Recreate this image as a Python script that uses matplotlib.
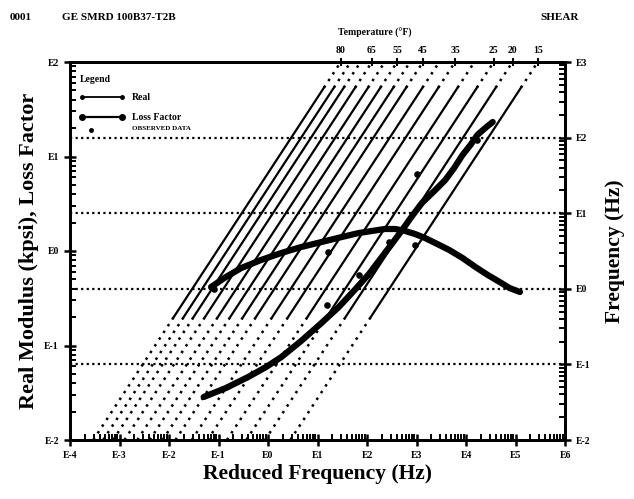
import numpy as np
import matplotlib
matplotlib.use("Agg")
import matplotlib.pyplot as plt
from matplotlib.ticker import LogLocator, FixedLocator, NullFormatter

# ---------------- data ----------------
# isotherms: temperature (F) and log10 shift factor aT (reduced freq = f * aT)
iso_temps = [80, 75, 70, 65, 60, 55, 50, 45, 40, 35, 30, 25, 20, 15]
iso_log_aT = [-1.53, -1.33, -1.13, -0.90, -0.64, -0.39, -0.13, 0.13, 0.46, 0.78, 1.17, 1.56, 1.94, 2.45]
labeled_temps = [80, 65, 55, 45, 35, 25, 20, 15]
test_freq_range = [10**-0.37, 10**2.66]   # solid part of isotherms (Hz)

# master curves (log10 reduced frequency, log10 value)
real_logfr = [-1.30, -0.85, -0.40, -0.04, 0.27, 0.67, 1.08, 1.43, 1.75, 2.04, 2.30, 2.50,
              2.71, 2.91, 3.11, 3.36, 3.58, 3.76, 3.93, 4.09, 4.23, 4.39, 4.54]
real_logE = [-1.545, -1.450, -1.333, -1.228, -1.122, -0.952, -0.762, -0.593, -0.413, -0.243,
             -0.063, 0.074, 0.222, 0.370, 0.508, 0.635, 0.751, 0.878, 1.016, 1.122, 1.228,
             1.302, 1.365]
loss_logfr = [-1.15, -0.85, -0.54, -0.14, 0.27, 0.67, 1.08, 1.49, 1.83, 2.10, 2.36, 2.57,
              2.77, 2.97, 3.17, 3.42, 3.66, 3.93, 4.19, 4.44, 4.68, 4.88, 5.09]
loss_logeta = [-0.381, -0.275, -0.180, -0.095, -0.021, 0.042, 0.095, 0.148, 0.190, 0.212,
               0.233, 0.233, 0.212, 0.180, 0.138, 0.074, 0.011, -0.074, -0.169, -0.254,
               -0.328, -0.392, -0.434]
obs_logfr = [1.20, 1.83, 2.44, 2.97, 3.01, 4.23, 1.22, -1.10]
obs_logy = [-0.571, -0.254, 0.095, 0.063, 0.815, 1.175, -0.011, -0.40]

x_ticks_exp = [-4, -3, -2, -1, 0, 1, 2, 3, 4, 5, 6]
left_ticks_exp = [-2, -1, 0, 1, 2]
right_ticks_exp = [-2, -1, 0, 1, 2, 3]

# ---------------- figure ----------------
SERIF = "Liberation Serif"
W, H = 634, 499
fig = plt.figure(figsize=(W / 100, H / 100), dpi=100)
ax = fig.add_axes([70 / W, 1 - 440 / H, 495 / W, 378 / H])
ax.set_xscale("log")
ax.set_yscale("log")
ax.set_xlim(1e-4, 1e6)
ax.set_ylim(1e-2, 1e2)

ax2 = ax.twinx()
ax2.set_yscale("log")
ax2.set_ylim(1e-2, 1e3)

for a in (ax, ax2):
    for s in a.spines.values():
        s.set_linewidth(2.0)

# horizontal dotted grid at right-axis decades
for e in [2, 1, 0, -1]:
    ax2.axhline(10.0**e, color="black", ls=(0, (1, 1.5)), lw=1.6, zorder=1)

# isotherms
f_lo, f_hi = test_freq_range
for la in iso_log_aT:
    aT = 10.0**la
    f_solid = np.array([f_lo, f_hi])
    ax2.plot(f_solid * aT, f_solid, color="black", lw=1.6, zorder=2)
    f_bot = np.array([1e-2, f_lo])
    f_top = np.array([f_hi, 1e3])
    ax2.plot(f_bot * aT, f_bot, color="black", lw=1.8, ls=(0, (1, 2.2)), zorder=2)
    ax2.plot(f_top * aT, f_top, color="black", lw=1.8, ls=(0, (1, 2.2)), zorder=2)

# master curves
ax.plot(10.0**np.array(real_logfr), 10.0**np.array(real_logE), color="black", lw=4.5, zorder=4,
        solid_capstyle="round", solid_joinstyle="round")
ax.plot(10.0**np.array(loss_logfr), 10.0**np.array(loss_logeta), color="black", lw=4.5, zorder=4,
        solid_capstyle="round", solid_joinstyle="round")
ax.scatter(10.0**np.array(obs_logfr), 10.0**np.array(obs_logy), s=14, color="black", zorder=5)

# ticks
tick_font = dict(family=SERIF, weight="bold", size=7)
ax.xaxis.set_major_locator(FixedLocator([10.0**e for e in x_ticks_exp]))
ax.set_xticklabels(["E%d" % e for e in x_ticks_exp], **tick_font)
ax.xaxis.set_minor_locator(LogLocator(base=10, subs=np.arange(2, 10), numticks=20))
ax.xaxis.set_minor_formatter(NullFormatter())
ax.yaxis.set_major_locator(FixedLocator([10.0**e for e in left_ticks_exp]))
ax.set_yticklabels(["E%d" % e for e in left_ticks_exp], **tick_font)
ax.yaxis.set_minor_locator(LogLocator(base=10, subs=np.arange(2, 10), numticks=20))
ax.yaxis.set_minor_formatter(NullFormatter())
ax2.yaxis.set_major_locator(FixedLocator([10.0**e for e in right_ticks_exp]))
ax2.set_yticklabels(["E%d" % e for e in right_ticks_exp], **tick_font)
ax2.yaxis.set_minor_locator(LogLocator(base=10, subs=np.arange(2, 10), numticks=20))
ax2.yaxis.set_minor_formatter(NullFormatter())

ax.tick_params(axis="both", which="major", direction="inout", length=8, width=1.8, pad=4)
ax.tick_params(axis="both", which="minor", direction="in", length=4, width=1.4)
ax2.tick_params(axis="y", which="major", direction="inout", length=8, width=1.8, pad=4)
ax2.tick_params(axis="y", which="minor", direction="in", length=4, width=1.4)
ax.tick_params(top=False, which="both")

# top temperature axis
sec = ax.secondary_xaxis("top")
top_pos = [1e3 * 10.0**iso_log_aT[iso_temps.index(t)] for t in labeled_temps]
sec.xaxis.set_major_locator(FixedLocator(top_pos))
sec.set_xticklabels([str(t) for t in labeled_temps], **tick_font)
sec.xaxis.set_minor_locator(FixedLocator([]))
sec.tick_params(axis="x", direction="inout", length=6, width=1.5, pad=2)
sec.spines["top"].set_linewidth(2.0)
fig.text(375 / W, 1 - 33 / H, "Temperature (°F)", ha="center", va="center",
         family=SERIF, weight="bold", size=7)

# axis labels
ax.set_xlabel("Reduced Frequency (Hz)", family=SERIF, weight="bold", size=15.5, labelpad=3)
ax.set_ylabel("Real Modulus (kpsi), Loss Factor", family=SERIF, weight="bold", size=16, labelpad=4)
ax2.set_ylabel("Frequency (Hz)", family=SERIF, weight="bold", size=15.5, labelpad=10)

# header
fig.text(10 / W, 1 - 18 / H, "0001", family=SERIF, weight="bold", size=8, va="center")
fig.text(62 / W, 1 - 18 / H, "GE SMRD 100B37-T2B", family=SERIF, weight="bold", size=8, va="center")
fig.text(540 / W, 1 - 18 / H, "SHEAR", family=SERIF, weight="bold", size=8, va="center")

# legend (hand-drawn style)
lf = dict(family=SERIF, weight="bold", size=7, transform=ax.transAxes, va="center")
def axc(px, py):
    return ((px - 70) / 495, (440 - py) / 378)
ax.text(*axc(80, 79), "Legend", **lf)
x0, y0 = axc(82, 97); x1, _ = axc(122, 97)
ax.plot([x0, x1], [y0, y0], color="black", lw=1.3, marker="o", ms=2.5, markevery=[0, 1],
        transform=ax.transAxes)
ax.text(*axc(132, 97), "Real", **lf)
x0, y0 = axc(82, 117); x1, _ = axc(122, 117)
ax.plot([x0, x1], [y0, y0], color="black", lw=1.6, marker="o", ms=4, markevery=[0, 1],
        transform=ax.transAxes)
ax.text(*axc(132, 117), "Loss Factor", **lf)
ax.plot(*axc(91, 130), marker="o", ms=2.5, color="black", transform=ax.transAxes)
ax.text(*axc(132, 129), "OBSERVED DATA", family=SERIF, weight="bold", size=5,
        transform=ax.transAxes, va="center")

fig.savefig("out.png", dpi=100)
